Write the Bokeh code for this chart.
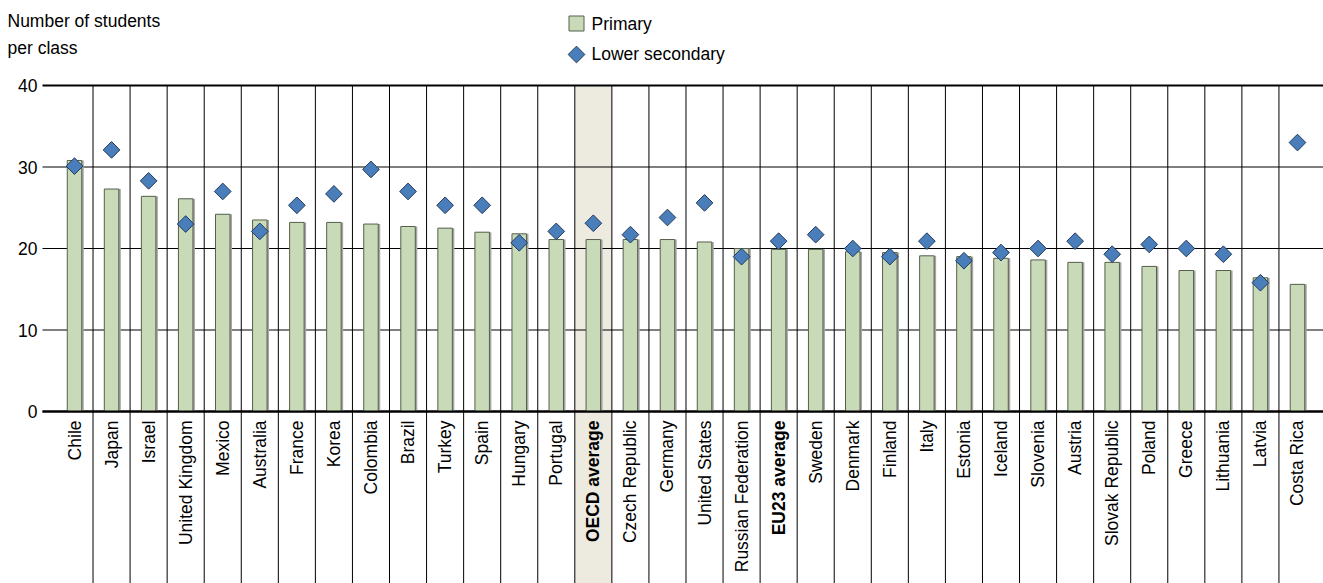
import math
from bokeh.plotting import figure
from bokeh.models import ColumnDataSource, Range1d
from bokeh.core.properties import value
from bokeh.embed import file_html
from bokeh.resources import INLINE
from bokeh.transform import dodge

# ---------------- data ----------------
countries = ["Chile", "Japan", "Israel", "United Kingdom", "Mexico", "Australia",
             "France", "Korea", "Colombia", "Brazil", "Turkey", "Spain", "Hungary",
             "Portugal", "OECD average", "Czech Republic", "Germany", "United States",
             "Russian Federation", "EU23 average", "Sweden", "Denmark", "Finland",
             "Italy", "Estonia", "Iceland", "Slovenia", "Austria", "Slovak Republic",
             "Poland", "Greece", "Lithuania", "Latvia", "Costa Rica"]
primary = [30.8, 27.3, 26.4, 26.1, 24.2, 23.5, 23.2, 23.2, 23.0, 22.7, 22.5, 22.0,
           21.8, 21.1, 21.1, 21.1, 21.1, 20.8, 20.0, 19.9, 19.9, 19.6, 19.5, 19.1,
           19.0, 18.8, 18.6, 18.3, 18.3, 17.8, 17.3, 17.3, 16.4, 15.6]
lower_secondary = [30.1, 32.1, 28.3, 23.0, 27.0, 22.1, 25.3, 26.7, 29.7, 27.0, 25.3,
                   25.3, 20.7, 22.1, 23.1, 21.7, 23.8, 25.6, 19.0, 20.9, 21.7, 20.0,
                   19.0, 20.9, 18.5, 19.5, 20.0, 20.9, 19.3, 20.5, 20.0, 19.3, 15.8, 33.0]
y_ticks = [0, 10, 20, 30, 40]
y_tick_labels = ["0", "10", "20", "30", "40"]
highlighted = ["OECD average"]
bold_labels = ["OECD average", "EU23 average"]
y_title = ["Number of students", "per class"]
series_names = ["Primary", "Lower secondary"]

# ---------------- layout ----------------
W, H = 1323, 583
CAT_W = 37.06          # px per category
FIRST_CENTER = 74.0    # px from figure left to first category centre
Y40_PX = 85.0          # px from figure top to y=40
Y0_PX = 411.0          # px from figure top to y=0
PPU = (Y0_PX - Y40_PX) / 40.0

x_start = -FIRST_CENTER / CAT_W
x_end = x_start + W / CAT_W
y_top = 40 + Y40_PX / PPU
y_bottom = -(H - Y0_PX) / PPU


def px2x(px):
    return x_start + px / CAT_W


def py2y(py):
    return y_top - py / PPU


FONT = value("Liberation Sans")
FS = "17.5px"
BAR_FILL = "#c9dab8"
BAR_LINE = "#55604c"
DIA_FILL = "#4a7ebb"
DIA_LINE = "#233a5a"
BEIGE = "#edeae0"

p = figure(width=W, height=H, output_backend="svg", toolbar_location=None,
           x_range=Range1d(x_start, x_end), y_range=Range1d(y_bottom, y_top),
           x_axis_location=None, y_axis_location=None, min_border=0)
p.outline_line_color = None
p.grid.visible = False
p.background_fill_color = "white"
p.border_fill_color = "white"

n = len(countries)
xs = list(range(n))

# highlighted column
hi_idx = [countries.index(c) for c in highlighted]
p.quad(left=[i - 0.5 for i in hi_idx], right=[i + 0.5 for i in hi_idx],
       bottom=y_bottom, top=40, fill_color=BEIGE, line_color=None)

# horizontal grid lines
grid_left = px2x(42)
gsrc = ColumnDataSource(dict(y=y_ticks,
                             w=[2 if t in (min(y_ticks), max(y_ticks)) else 1 for t in y_ticks]))
p.segment(x0=grid_left, x1=x_end, y0="y", y1="y", line_width="w",
          line_color="black", source=gsrc)

# vertical separators
p.segment(x0=[i + 0.5 for i in xs[:-1]], x1=[i + 0.5 for i in xs[:-1]],
          y0=y_bottom, y1=max(y_ticks), line_color="black", line_width=1)

# bars
src = ColumnDataSource(dict(x=xs, primary=primary, lower=lower_secondary,
                            name=countries,
                            style=["bold" if c in bold_labels else "normal" for c in countries]))
p.vbar(x=dodge("x", 2.0 / CAT_W, range=p.x_range), top="primary", bottom=0,
       width=14.5 / CAT_W, fill_color="#a6a6a6", line_color=None, source=src)
p.vbar(x="x", top="primary", bottom=0, width=14.5 / CAT_W,
       fill_color=BAR_FILL, line_color=BAR_LINE, line_width=1, source=src)

# redraw the zero baseline on top of bars
p.segment(x0=grid_left, x1=x_end, y0=0, y1=0, line_width=2, line_color="black")

# diamonds
p.scatter(x="x", y="lower", marker="square", angle=math.pi / 4, size=11.8,
          fill_color=DIA_FILL, line_color=DIA_LINE, line_width=1, source=src)

# category labels
p.text(x="x", y=-9 / PPU, text="name", angle=math.pi / 2, text_align="right",
       text_baseline="middle", text_font=FONT, text_font_size=FS,
       text_font_style="style", text_color="black", source=src)

# y tick labels
p.text(x=px2x(37), y=y_ticks, text=y_tick_labels, text_align="right",
       text_baseline="middle", text_font=FONT, text_font_size=FS, text_color="black")

# y title
p.text(x=px2x(7), y=[py2y(20), py2y(47)], text=y_title, text_align="left",
       text_baseline="middle", text_font=FONT, text_font_size=FS, text_color="black")

# legend
lx = px2x(576)
p.scatter(x=[lx], y=[py2y(23)], marker="square", size=15, fill_color=BAR_FILL,
          line_color=BAR_LINE, line_width=1)
p.scatter(x=[lx], y=[py2y(54)], marker="square", angle=math.pi / 4, size=11.8,
          fill_color=DIA_FILL, line_color=DIA_LINE, line_width=1)
p.text(x=px2x(591), y=[py2y(23), py2y(53)], text=series_names, text_align="left",
       text_baseline="middle", text_font=FONT, text_font_size=FS, text_color="black")

open("out.html", "w").write(file_html(p, INLINE))
